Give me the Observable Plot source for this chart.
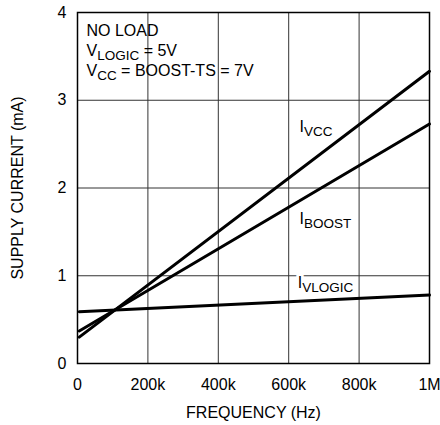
<!DOCTYPE html>
<html><head><meta charset="utf-8">
<script src="https://cdn.jsdelivr.net/npm/d3@7"></script>
<script src="https://cdn.jsdelivr.net/npm/@observablehq/plot@0.6"></script>
<style>body{margin:0;background:#fff}</style>
</head><body><div id="chart"></div><script>
const FONT = '"Liberation Sans",Arial,sans-serif';
const frequency = [5000, 1000000];
const iVcc = [0.30, 3.33];
const iBoost = [0.37, 2.73];
const iVlogic = [0.59, 0.78];
const xTicks = [0, 200000, 400000, 600000, 800000, 1000000];
const xTickLabels = ["0", "200k", "400k", "600k", "800k", "1M"];
const yTicks = [0, 1, 2, 3, 4];
const seriesSubs = ["VCC", "BOOST", "VLOGIC"];
const labelFreq = [632000, 632000, 627000];
const labelCurrent = [2.70, 1.65, 0.92];
const noteMain = ["NO LOAD", "V", "V"];
const noteSub = ["", "LOGIC", "CC"];
const noteRest = ["", " = 5V", " = BOOST-TS = 7V"];
const noteFreq = 27000;
const noteCurrent = [3.79, 3.56, 3.33];

const seriesValues = [iVcc, iBoost, iVlogic];
const rows = [];
seriesSubs.forEach((s, k) => frequency.forEach((f, j) => rows.push({series: s, f, i: seriesValues[k][j]})));

const plot = Plot.plot({
  width: 440, height: 425,
  marginLeft: 77, marginRight: 11, marginTop: 12, marginBottom: 62,
  style: {fontFamily: FONT, fontSize: "16px", color: "#000", background: "#fff"},
  x: {domain: [0, 1000000], ticks: xTicks, tickFormat: d => xTickLabels[xTicks.indexOf(d)],
      label: "FREQUENCY (Hz)", labelAnchor: "center", labelArrow: "none",
      tickSize: 0, tickPadding: 15, labelOffset: 54},
  y: {domain: [0, 4], ticks: yTicks, tickFormat: d => String(d), label: "SUPPLY CURRENT (mA)", labelAnchor: "center",
      labelArrow: "none", tickSize: 0, tickPadding: 11, labelOffset: 66},
  marks: [
    Plot.gridX(xTicks.slice(1, -1), {stroke: "#333", strokeOpacity: 1, strokeWidth: 1}),
    Plot.gridY(yTicks.slice(1, -1), {stroke: "#333", strokeOpacity: 1, strokeWidth: 1}),
    Plot.line(rows, {x: "f", y: "i", z: "series", stroke: "#000", strokeWidth: 3}),
    Plot.frame({stroke: "#000", strokeWidth: 1.5})
  ]
});
document.getElementById("chart").appendChild(plot);

const sx = plot.scale("x"), sy = plot.scale("y");
const svg = d3.select(plot);

function addLabel(x, y, main, sub, rest, halo) {
  const layers = halo ? [true, false] : [false];
  layers.forEach(isHalo => {
    const t = svg.append("text")
      .attr("x", sx.apply(x)).attr("y", sy.apply(y))
      .attr("dy", "0.35em").attr("text-anchor", "start")
      .attr("font-family", FONT).attr("font-size", 16).attr("fill", isHalo ? "#fff" : "#000");
    if (isHalo) t.attr("stroke", "#fff").attr("stroke-width", 6).attr("stroke-linejoin", "round");
    t.append("tspan").text(main);
    if (sub) t.append("tspan").attr("font-size", 13.5).attr("dy", 4).text(sub);
    if (rest) t.append("tspan").attr("dy", sub ? -4 : 0).text(rest);
  });
}
noteMain.forEach((m, k) => addLabel(noteFreq, noteCurrent[k], m, noteSub[k], noteRest[k], false));
seriesSubs.forEach((s, k) => addLabel(labelFreq[k], labelCurrent[k], "I", s, "", true));
</script></body></html>
